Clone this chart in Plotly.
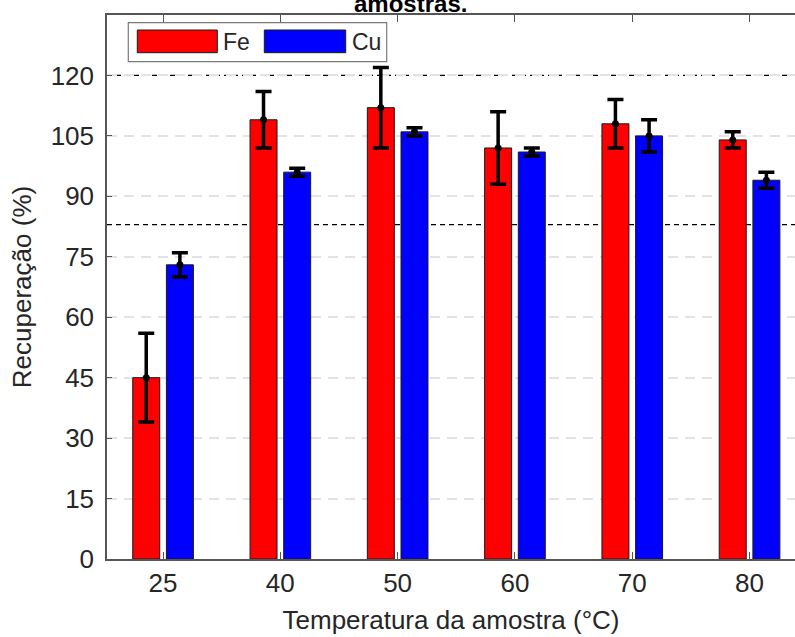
import plotly.graph_objects as go

# ---- data ----
temperatures = ["25", "40", "50", "60", "70", "80"]
fe_values = [45, 109, 112, 102, 108, 104]
fe_errors = [11, 7, 10, 9, 6, 2]
cu_values = [73, 96, 106, 101, 105, 94]
cu_errors = [3, 1, 1, 1, 4, 2]
limit_lines = [120, 83]
y_ticks = [0, 15, 30, 45, 60, 75, 90, 105, 120]

# ---- layout constants (pixels) ----
W, H = 795, 637
L, R, T, B = 107, 0, 15, 78
PW, PH = W - L - R, H - T - B
BAR_W = 0.23
FE_OFF = -0.258
CU_OFF = 0.029
FONT = "Liberation Sans, Arial, sans-serif"
TXT = "#262626"

idx = list(range(len(temperatures)))


def px(xp):
    return (xp - L) / PW


def py(yp):
    return (H - B - yp) / PH


fig = go.Figure()
for vals, errs, off, col in [(fe_values, fe_errors, FE_OFF, "#ff0000"),
                             (cu_values, cu_errors, CU_OFF, "#0000ff")]:
    fig.add_trace(go.Bar(
        x=idx, y=vals, width=[BAR_W] * len(idx), offset=off,
        marker=dict(color=col, line=dict(color="#1a1a1a", width=1)),
        error_y=dict(type="data", array=errs, color="black", thickness=3.5, width=8),
        showlegend=False,
    ))
    fig.add_trace(go.Scatter(
        x=[i + off + BAR_W / 2 for i in idx], y=vals, mode="markers",
        marker=dict(color="black", size=7), showlegend=False,
    ))

shapes = []
for v in limit_lines:
    shapes.append(dict(type="line", xref="paper", yref="y", x0=0, x1=1, y0=v, y1=v,
                       line=dict(color="black", width=1.2, dash="5px,4px"), layer="below"))

# custom legend
shapes.append(dict(type="rect", xref="paper", yref="paper",
                   x0=px(128.3), x1=px(386.7), y0=py(61.7), y1=py(22.7),
                   line=dict(color="#7a7a7a", width=1.2), fillcolor="white", layer="above"))
shapes.append(dict(type="rect", xref="paper", yref="paper",
                   x0=px(137.3), x1=px(217.3), y0=py(52.7), y1=py(30),
                   line=dict(color="#1a1a1a", width=1), fillcolor="#ff0000", layer="above"))
shapes.append(dict(type="rect", xref="paper", yref="paper",
                   x0=px(264.3), x1=px(345.7), y0=py(52.7), y1=py(30),
                   line=dict(color="#1a1a1a", width=1), fillcolor="#0000ff", layer="above"))

annotations = [
    dict(text="Fe", xref="paper", yref="paper", x=px(221), y=py(41.5), xanchor="left",
         yanchor="middle", showarrow=False, font=dict(family=FONT, size=23, color=TXT)),
    dict(text="Cu", xref="paper", yref="paper", x=px(349.5), y=py(41.5), xanchor="left",
         yanchor="middle", showarrow=False, font=dict(family=FONT, size=23, color=TXT)),
    dict(text="<b>amostras.</b>", xref="paper", yref="paper", x=px(410), y=py(3),
         xanchor="center", yanchor="middle", showarrow=False,
         font=dict(family=FONT, size=24, color="black")),
]

fig.update_layout(
    width=W, height=H,
    margin=dict(l=L, r=R, t=T, b=B, autoexpand=False),
    paper_bgcolor="white", plot_bgcolor="white",
    barmode="overlay",
    shapes=shapes, annotations=annotations,
    font=dict(family=FONT, color=TXT),
)
fig.update_xaxes(
    range=[(L - (L + 56)) / 117.3, (W - (L + 56)) / 117.3],
    tickvals=idx, ticktext=temperatures,
    ticks="inside", ticklen=7, tickcolor="#555555", tickwidth=1,
    showline=True, linecolor="#555555", linewidth=1.5, mirror="ticks",
    showgrid=False, zeroline=False,
    tickfont=dict(size=26, color=TXT),
    title=dict(text="Temperatura da amostra (°C)", font=dict(size=26, color=TXT), standoff=14),
)
fig.update_yaxes(
    range=[0, 135], tickvals=y_ticks,
    ticks="inside", ticklen=5, tickcolor="#555555", tickwidth=1,
    showline=True, linecolor="#555555", linewidth=1.5, mirror=False,
    showgrid=True, gridcolor="#e3e3e3", gridwidth=1.5, griddash="10px,7px",
    zeroline=False, ticklabelstandoff=6,
    tickfont=dict(size=26, color=TXT),
    title=dict(text="Recuperação (%)", font=dict(size=26, color=TXT), standoff=12),
)

fig.write_html(
    "out.html",
    config={"displayModeBar": False},
    post_script="document.body.style.margin='0';document.body.style.overflow='hidden';",
)
